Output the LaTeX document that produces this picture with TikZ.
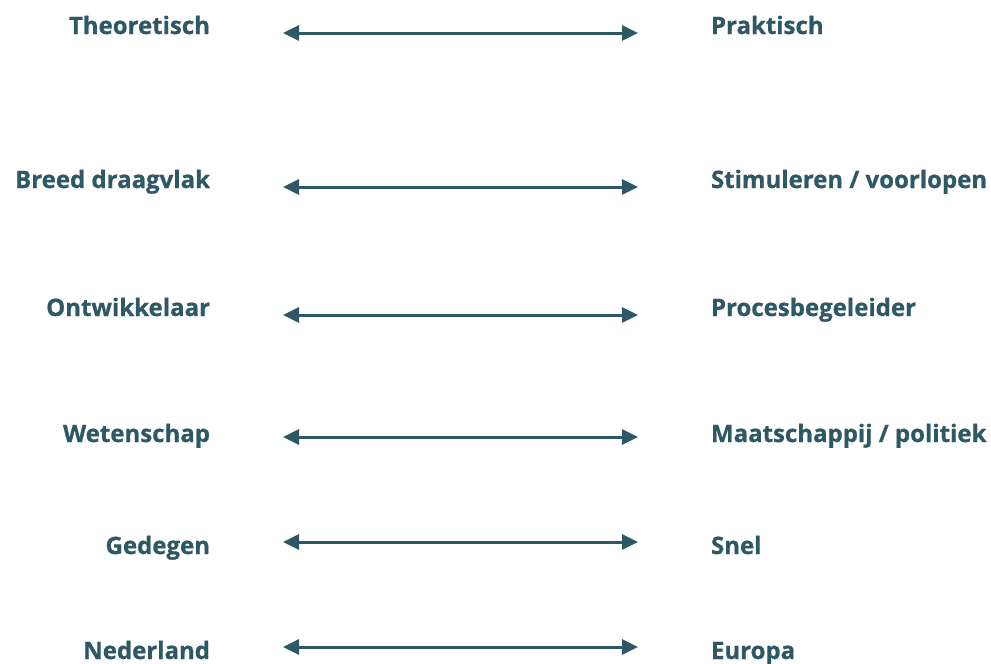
\documentclass[tikz,border=0pt]{standalone}
\usepackage{fontspec}
\setmainfont{Open Sans}[UprightFont=* Bold, FakeBold=0.8]
\usetikzlibrary{arrows.meta}
\definecolor{teal}{HTML}{2E5866}
\tikzset{
  lbl/.style={inner sep=0pt, outer sep=0pt, text=teal, font=\fontsize{24pt}{28pt}\selectfont},
  lft/.style={lbl, anchor=base east},
  rgt/.style={lbl, anchor=base west},
  arr/.style={draw=teal, line width=3pt, {Triangle[length=16pt,width=15pt]}-{Triangle[length=16pt,width=15pt]}}
}
\begin{document}
\begin{tikzpicture}[x=1pt,y=1pt]
\useasboundingbox (0,0) rectangle (991,-664);
\foreach \n/\L/\R/\b/\a in {1/{Theoretisch}/{Praktisch}/34/33,
  2/{Breed draagvlak}/{Stimuleren {/} voorlopen}/188/187,
  3/{Ontwikkelaar}/{Procesbegeleider}/316/315,
  4/{Wetenschap}/{Maatschappij {/} politiek}/442/437,
  5/{Gedegen}/{Snel}/554/542,
  6/{Nederland}/{Europa}/659/647}{
  \node[lft] (l\n) at (210,-\b) {\L};
  \node[rgt] (r\n) at (711,-\b) {\R};
  \coordinate (al\n) at (283,-\a);
  \coordinate (ar\n) at (638,-\a);
  \draw[arr] (al\n) -- (ar\n);
}
\end{tikzpicture}
\end{document}
